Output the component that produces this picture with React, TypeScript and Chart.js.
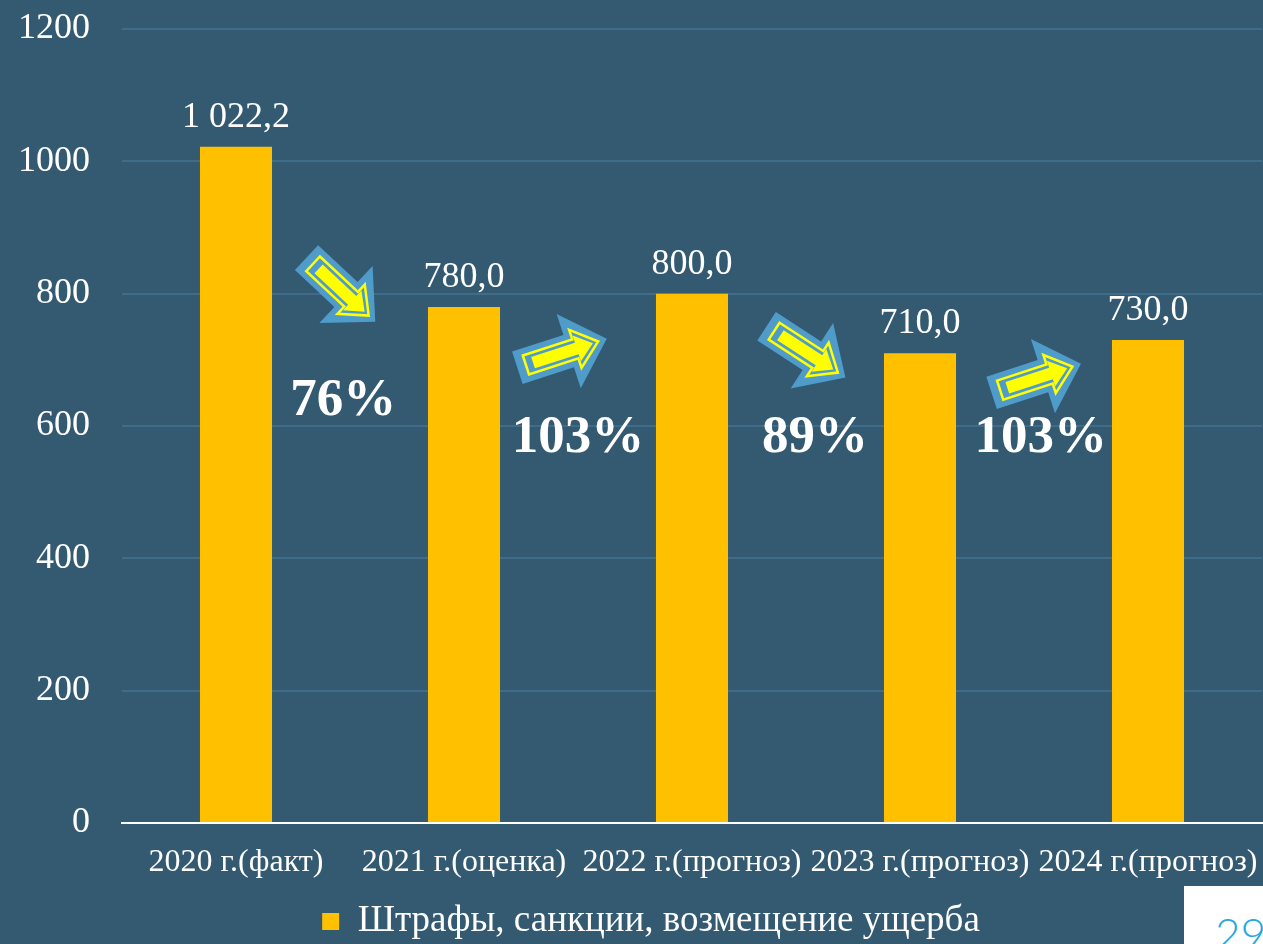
import React, { useEffect, useRef } from 'react';
import { Chart, registerables } from 'chart.js';

Chart.register(...registerables);

const categories = ['2020 г.(факт)', '2021 г.(оценка)', '2022 г.(прогноз)', '2023 г.(прогноз)', '2024 г.(прогноз)'];
const values = [1022.2, 780, 800, 710, 730];
const seriesName = 'Штрафы, санкции, возмещение ущерба';
const yMin = 0;
const yMax = 1200;
const yStep = 200;

// growth annotations between neighbouring categories
const changeLabels = ['76%', '103%', '89%', '103%'];
const changeLabelPos = [0.47, 0.5, 0.54, 0.53];
const changeLabelValue = [637, 581, 581, 581];
const arrowPos = [0.46, 0.43, 0.5, 0.51];
const arrowValue = [806, 710, 712, 672];
const arrowAngle = [43, -18, 33, -18];

const BG = '#345A72';
const GRID = '#3F6C8A';
const BAR = '#FFC000';
const ARROW_BLUE = '#4F9CCA';
const ARROW_YELLOW = '#FFFF00';
const SERIF = "'Times New Roman', 'Liberation Serif', serif";

function fmt(v: number): string {
  const [i, d] = v.toFixed(1).split('.');
  return i.replace(/\B(?=(\d{3})+(?!\d))/g, ' ') + ',' + d;
}

function arrowPath(ctx: CanvasRenderingContext2D, L: number, sw: number, hw: number, hl: number) {
  const tail = -L / 2;
  const tip = L / 2;
  const neck = tip - hl;
  ctx.beginPath();
  ctx.moveTo(tail, -sw);
  ctx.lineTo(neck, -sw);
  ctx.lineTo(neck, -hw);
  ctx.lineTo(tip, 0);
  ctx.lineTo(neck, hw);
  ctx.lineTo(neck, sw);
  ctx.lineTo(tail, sw);
  ctx.closePath();
}

const legendShiftPlugin = {
  id: 'legendShift',
  afterLayout(chart: any) {
    if (chart.legend) chart.legend.left = 40;
  },
};

const annotationsPlugin = {
  id: 'annotations',
  afterDatasetsDraw(chart: any) {
    const ctx: CanvasRenderingContext2D = chart.ctx;
    const xs = chart.scales.x;
    const ys = chart.scales.y;
    const meta = chart.getDatasetMeta(0);
    ctx.save();
    // value labels
    ctx.fillStyle = '#FFFFFF';
    ctx.font = `36px ${SERIF}`;
    ctx.textAlign = 'center';
    ctx.textBaseline = 'alphabetic';
    meta.data.forEach((bar: any, i: number) => {
      ctx.fillText(fmt(values[i]), bar.x, bar.y - 20);
    });
    // arrows
    arrowPos.forEach((p, i) => {
      const x0 = xs.getPixelForTick(i);
      const x1 = xs.getPixelForTick(i + 1);
      const cx = x0 + (x1 - x0) * p;
      const cy = ys.getPixelForValue(arrowValue[i]);
      ctx.save();
      ctx.translate(cx, cy);
      ctx.rotate((arrowAngle[i] * Math.PI) / 180);
      arrowPath(ctx, 94, 17, 39, 40);
      ctx.fillStyle = ARROW_BLUE;
      ctx.fill();
      arrowPath(ctx, 76, 10, 20, 24);
      ctx.strokeStyle = ARROW_YELLOW;
      ctx.lineWidth = 2.5;
      ctx.lineJoin = 'miter';
      ctx.stroke();
      ctx.translate(1, 0);
      arrowPath(ctx, 63, 6, 13.5, 17);
      ctx.fillStyle = ARROW_YELLOW;
      ctx.fill();
      ctx.restore();
    });
    // percent labels
    ctx.fillStyle = '#FFFFFF';
    ctx.font = `bold 53px ${SERIF}`;
    ctx.textAlign = 'center';
    ctx.textBaseline = 'middle';
    changeLabels.forEach((t, i) => {
      const x0 = xs.getPixelForTick(i);
      const x1 = xs.getPixelForTick(i + 1);
      const cx = x0 + (x1 - x0) * changeLabelPos[i];
      const cy = ys.getPixelForValue(changeLabelValue[i]);
      ctx.fillText(t, cx, cy);
    });
    ctx.restore();
  },
};

export default function App() {
  const ref = useRef<HTMLCanvasElement | null>(null);
  useEffect(() => {
    if (!ref.current) return;
    const chart = new Chart(ref.current, {
      type: 'bar',
      data: {
        labels: categories,
        datasets: [
          {
            label: seriesName,
            data: values,
            backgroundColor: BAR,
            borderWidth: 0,
            barPercentage: 0.316,
            categoryPercentage: 1,
          },
        ],
      },
      options: {
        responsive: false,
        animation: false,
        layout: { padding: { left: 0, top: 29, right: 1, bottom: 0 } },
        plugins: {
          tooltip: { enabled: false },
          legend: {
            position: 'bottom',
            labels: {
              color: '#FFFFFF',
              font: { family: SERIF, size: 37 },
              boxWidth: 17,
              boxHeight: 17,
              padding: 10,
            },
          },
        },
        scales: {
          x: {
            grid: { display: false, drawTicks: false },
            border: { display: true, color: '#FFFFFF', width: 2 },
            ticks: {
              color: '#FFFFFF',
              font: { family: SERIF, size: 32 },
              padding: 20,
              maxRotation: 0,
              minRotation: 0,
              autoSkip: false,
            },
            afterFit: (s: any) => {
              s.height = 70;
              s.paddingLeft = 0;
              s.paddingRight = 0;
            },
          },
          y: {
            min: yMin,
            max: yMax,
            grid: { color: GRID, lineWidth: 2, drawTicks: false },
            border: { display: false },
            ticks: {
              stepSize: yStep,
              color: '#FFFFFF',
              font: { family: SERIF, size: 36 },
              padding: 32,
              callback: (v: any) => String(v),
            },
            afterFit: (s: any) => {
              s.width = 122;
              s.paddingTop = 0;
              s.paddingBottom = 0;
            },
          },
        },
      },
      plugins: [legendShiftPlugin, annotationsPlugin],
    });
    return () => chart.destroy();
  }, []);

  return (
    <div
      style={{
        position: 'fixed',
        left: 0,
        top: 0,
        width: 1263,
        height: 944,
        overflow: 'hidden',
        background: BG,
      }}
    >
      <canvas ref={ref} width={1263} height={950} style={{ display: 'block' }} />
      <div
        style={{
          position: 'absolute',
          left: 1184,
          top: 886,
          width: 79,
          height: 58,
          background: '#FFFFFF',
          overflow: 'hidden',
        }}
      >
        <div
          style={{
            position: 'absolute',
            left: 31,
            top: 25,
            fontFamily: "Lato, 'Open Sans', sans-serif",
            fontWeight: 300,
            fontSize: 44,
            lineHeight: '44px',
            color: '#29A8E0',
            whiteSpace: 'nowrap',
          }}
        >
          29
        </div>
      </div>
    </div>
  );
}
